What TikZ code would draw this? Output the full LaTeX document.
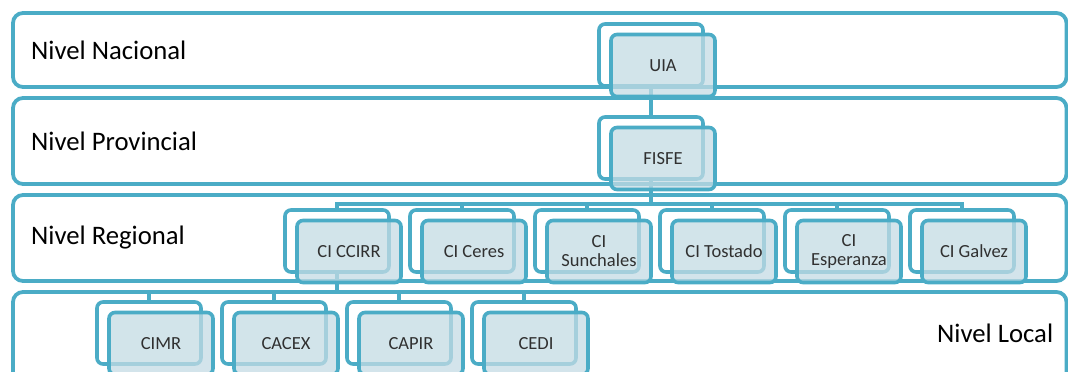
\documentclass[tikz,border=0pt]{standalone}
\usepackage{fontspec}
\setmainfont{Carlito}
\definecolor{lineblue}{HTML}{4BACC6}
\definecolor{boxblue}{RGB}{196,219,228}
\definecolor{txtgrey}{HTML}{303030}

\begin{document}
\begin{tikzpicture}[x=1pt, y=-1pt,
        level/.style={draw=lineblue, line width=3.8pt, rounded corners=10pt},
        lvltext/.style={anchor=base west, inner sep=0pt, font=\fontsize{26.7}{30}\selectfont},
        back/.style={draw=lineblue, fill=white, line width=3.6pt, rounded corners=6pt, minimum width=104pt, minimum height=62pt, inner sep=0pt},
        box/.style={back, fill=boxblue, fill opacity=0.75, text opacity=1, text=txtgrey, align=center, font=\fontsize{18.5}{19}\selectfont},
        link/.style={draw=lineblue, line width=4pt}
    ]
        \clip (0,0) rectangle (1068,372);

        % Levels
        \draw[level] (13,13) rectangle (1066.5,87);
        \draw[level] (13,98) rectangle (1066.5,184);
        \draw[level] (13,195) rectangle (1066.5,281);
        \draw[level] (13,292) rectangle (1066.5,400);

        \node[lvltext] (nacional) at (31,59) {Nivel Nacional};
        \node[lvltext] (provincial) at (31,150) {Nivel Provincial};
        \node[lvltext] (regional) at (31,244) {Nivel Regional};
        \node[lvltext] (local) at (937,342) {Nivel Local};

        % Back boxes
        \node[back] (uiaback) at (651,55) {};
        \node[back] (fisfeback) at (651,148) {};

        \node[back] (ccirrback) at (337,241) {};
        \node[back] (ceresback) at (462,241) {};
        \node[back] (sunchback) at (587,241) {};
        \node[back] (tostback) at (712,241) {};
        \node[back] (esperback) at (837,241) {};
        \node[back] (galvback) at (962,241) {};

        \node[back] (cimrback) at (149,333) {};
        \node[back] (cacexback) at (274,333) {};
        \node[back] (capirback) at (399,333) {};
        \node[back] (cediback) at (524,333) {};

        % Paths
        \draw[link] (uiaback.south) -- (fisfeback.north);

        \draw[link] (fisfeback.south) -- ++(0,23) -| (ccirrback.north);
        \draw[link] (fisfeback.south) -- ++(0,23) -| (ceresback.north);
        \draw[link] (fisfeback.south) -- ++(0,23) -| (sunchback.north);
        \draw[link] (fisfeback.south) -- ++(0,23) -| (tostback.north);
        \draw[link] (fisfeback.south) -- ++(0,23) -| (esperback.north);
        \draw[link] (fisfeback.south) -- ++(0,23) -| (galvback.north);

        \draw[link] (ccirrback.south) -- ++(0,18) -| (cimrback.north);
        \draw[link] (ccirrback.south) -- ++(0,18) -| (cacexback.north);
        \draw[link] (ccirrback.south) -- ++(0,18) -| (capirback.north);
        \draw[link] (ccirrback.south) -- ++(0,18) -| (cediback.north);

        % Front boxes
        \node[box] (uia) at ([shift={(12,10.5)}]uiaback.center) {UIA};
        \node[box] (fisfe) at ([shift={(12,10.5)}]fisfeback.center) {FISFE};

        \node[box] (ccirr) at ([shift={(12,10.5)}]ccirrback.center) {CI CCIRR};
        \node[box] (ceres) at ([shift={(12,10.5)}]ceresback.center) {CI Ceres};
        \node[box] (sunch) at ([shift={(12,10.5)}]sunchback.center) {CI\\Sunchales};
        \node[box] (tost) at ([shift={(12,10.5)}]tostback.center) {CI Tostado};
        \node[box] (esper) at ([shift={(12,10.5)}]esperback.center) {CI\\Esperanza};
        \node[box] (galv) at ([shift={(12,10.5)}]galvback.center) {CI Galvez};

        \node[box] (cimr) at ([shift={(12,10.5)}]cimrback.center) {CIMR};
        \node[box] (cacex) at ([shift={(12,10.5)}]cacexback.center) {CACEX};
        \node[box] (capir) at ([shift={(12,10.5)}]capirback.center) {CAPIR};
        \node[box] (cedi) at ([shift={(12,10.5)}]cediback.center) {CEDI};

    \end{tikzpicture}
\end{document}
